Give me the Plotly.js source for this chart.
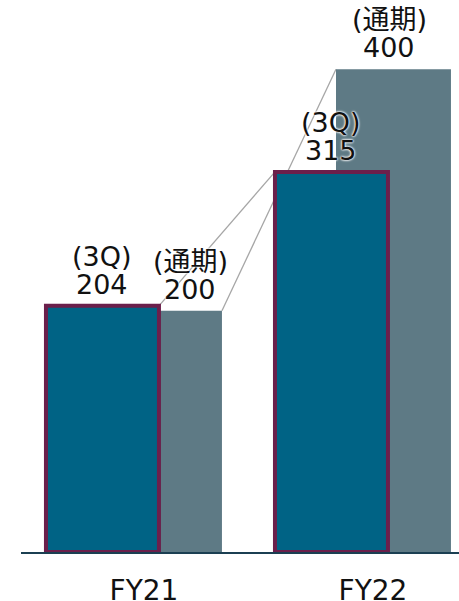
<!DOCTYPE html>
<html>
<head>
<meta charset="utf-8">
<script src="https://cdn.plot.ly/plotly-3.0.1.min.js"></script>
<style>
  html, body { margin: 0; padding: 0; background: #ffffff; }
  #chart { width: 459px; height: 601px; }
</style>
</head>
<body>
<div id="chart"></div>
<script>
// ---- data ----
const categories = ['FY21', 'FY22'];
const q3Values = [204, 315];          // (3Q)
const fullYearValues = [200, 400];    // (通期)
const q3Label = '(3Q)';
const fullYearLabel = '(通期)';

// ---- styling / geometry ----
const catX = categories.map((c, i) => i);
const Q_OFF = -0.380, Q_W = 0.4934;
const F_OFF = -0.1135, F_W = 0.502;
const COL_Q = '#006385';
const COL_F = '#5e7a85';
const COL_BORDER = '#6b1f4b';
const FONT = 'DejaVu Sans, Verdana, Noto Sans CJK JP, sans-serif';
const TXT_SIZE = 27;
const halo = '0 0 2px #fff, 0 0 2px #fff, 0 0 3px #fff';

const traces = [
  {
    type: 'bar', name: fullYearLabel,
    x: catX, y: fullYearValues,
    offset: F_OFF, width: F_W,
    marker: { color: COL_F, line: { width: 0 } },
    hoverinfo: 'skip'
  },
  {
    type: 'bar', name: q3Label,
    x: catX, y: q3Values,
    offset: Q_OFF, width: Q_W,
    marker: { color: COL_Q, line: { width: 4, color: COL_BORDER } },
    hoverinfo: 'skip'
  }
];

// connector lines between tops
const shapes = [
  { type: 'line', layer: 'below', xref: 'x', yref: 'y',
    x0: catX[0] + Q_OFF + Q_W, y0: q3Values[0],
    x1: catX[1] + Q_OFF, y1: q3Values[1],
    line: { color: '#a6a6a6', width: 1.3 } },
  { type: 'line', layer: 'below', xref: 'x', yref: 'y',
    x0: catX[0] + F_OFF + F_W, y0: fullYearValues[0],
    x1: catX[1] + F_OFF, y1: fullYearValues[1],
    line: { color: '#a6a6a6', width: 1.3 } }
];

const annotations = [];
function addLabel(x, y, label, value, xshift) {
  const f = { family: FONT, size: TXT_SIZE, color: '#111111', shadow: halo };
  annotations.push({ x: x, y: y, xref: 'x', yref: 'y', text: String(value),
    showarrow: false, xanchor: 'center', yanchor: 'bottom', yshift: 4, xshift: xshift, font: f });
  annotations.push({ x: x, y: y, xref: 'x', yref: 'y', text: label,
    showarrow: false, xanchor: 'center', yanchor: 'bottom', yshift: 32, xshift: xshift, font: f });
}
catX.forEach((cx, i) => {
  addLabel(cx + Q_OFF + Q_W / 2, q3Values[i], q3Label, q3Values[i], 0);
  // full-year label: centred on the visible part of the grey bar
  const visMid = ((cx + Q_OFF + Q_W) + (cx + F_OFF + F_W)) / 2;
  addLabel(visMid, fullYearValues[i], fullYearLabel, fullYearValues[i], i === catX.length - 1 ? -30 : 0);
});

const layout = {
  width: 459, height: 601,
  margin: { l: 21, r: 0, t: 9, b: 49, pad: 0 },
  paper_bgcolor: '#ffffff', plot_bgcolor: '#ffffff',
  showlegend: false,
  barmode: 'overlay',
  xaxis: {
    type: 'linear', range: [-0.489, 1.4236],
    tickvals: catX, ticktext: categories,
    ticks: '', showgrid: false, zeroline: false,
    showline: true, linecolor: '#1b3f52', linewidth: 2,
    layer: 'below traces',
    tickfont: { family: FONT, size: 28, color: '#111111' },
    ticklabelshift: 11, ticklabelstandoff: 12,
    fixedrange: true
  },
  yaxis: {
    range: [0, 450], visible: false, showgrid: false, zeroline: false, fixedrange: true
  },
  shapes: shapes,
  annotations: annotations
};

Plotly.newPlot('chart', traces, layout, { staticPlot: true, displayModeBar: false });
</script>
</body>
</html>
